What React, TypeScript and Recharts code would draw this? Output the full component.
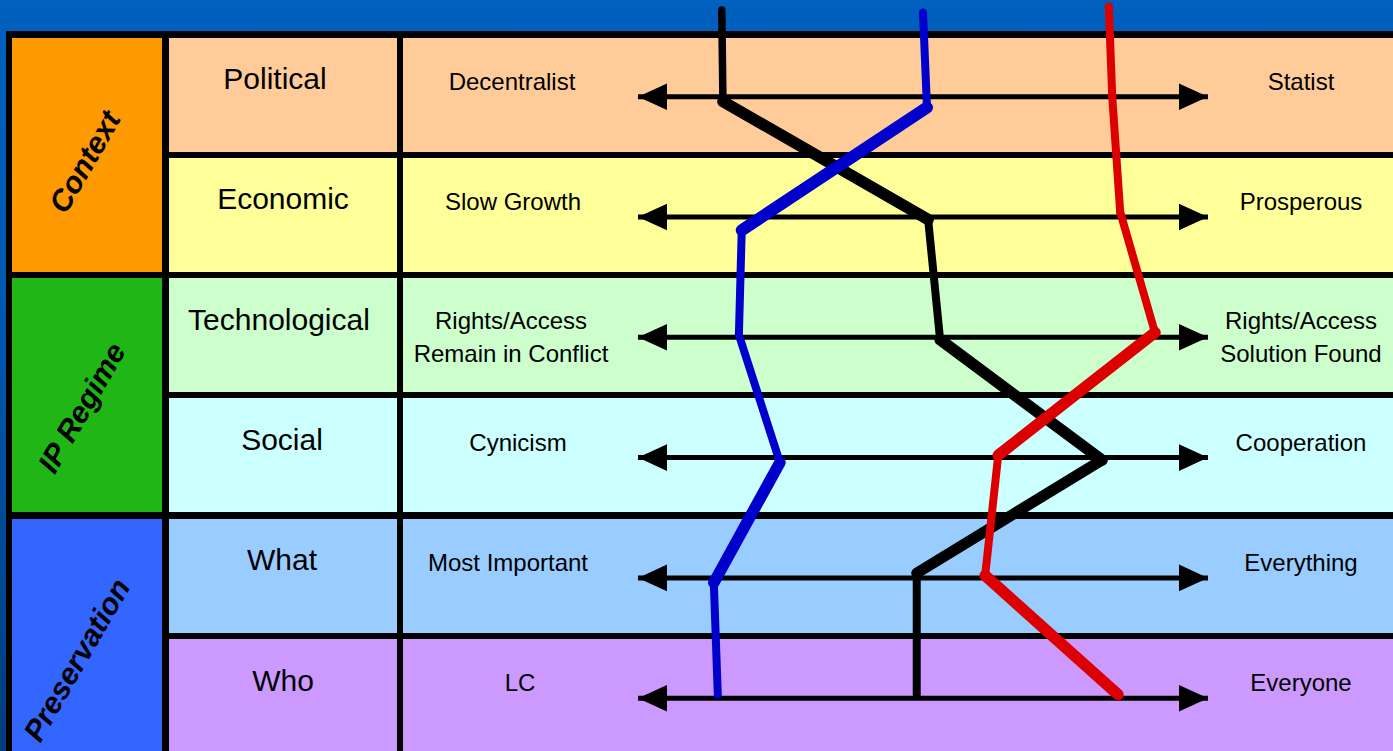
import { ComposedChart, Line, XAxis, YAxis } from 'recharts';

// ---- data ----
const groups = ['Context', 'IP Regime', 'Preservation'];
const groupSpan = [2, 2, 2]; // how many driver rows each group covers

const drivers = ['Political', 'Economic', 'Technological', 'Social', 'What', 'Who'];
const leftPoles = [
  'Decentralist',
  'Slow Growth',
  'Rights/Access\nRemain in Conflict',
  'Cynicism',
  'Most Important',
  'LC',
];
const rightPoles = [
  'Statist',
  'Prosperous',
  'Rights/Access\nSolution Found',
  'Cooperation',
  'Everything',
  'Everyone',
];

// spectrum runs 0 (left pole) .. 10 (right pole)
const poleMin = 0;
const poleMax = 10;

// scenario paths: spectrum position + row index; first point is where the pen starts above the table
const blackPos = [1.47, 1.49, 5.09, 5.3, 8.14, 4.89, 4.89];
const blackRow = [-0.72, 0.04, 1.02, 2.02, 3.02, 3.96, 4.97];

const redPos = [8.26, 8.32, 8.46, 9.07, 6.32, 6.09, 8.42];
const redRow = [-0.75, 0.0, 0.96, 1.96, 2.98, 3.98, 4.97];

const bluePos = [5.0, 5.07, 1.82, 1.77, 2.49, 1.33, 1.4];
const blueRow = [-0.7, 0.09, 1.11, 1.98, 3.04, 4.04, 4.97];

// ---- styles / layout ----
const W = 1393;
const H = 751;
const ROW0_Y = 96.7; // arrow of first row
const ROW_STEP = 120.3;
const GRID_TOP = 37.5;
const SEP = 6.3;
const POLE_L = 638;
const POLE_R = 1208;

const groupColors = ['#ff9900', '#1fb616', '#3366ff'];
const rowColors = ['#ffcc99', '#ffff99', '#ccffcc', '#ccffff', '#99ccff', '#cc99ff'];
const groupLabelAt = [
  [85, 162],
  [82, 408],
  [77, 660],
];
const driverLabelX = [275, 283, 279, 282, 282, 283];
const leftPoleX = [512, 513, 511, 518, 508, 520];

const blackWidths = [7.5, 11.5, 8, 11.5, 11, 8];
const redWidths = [8, 8, 8, 11.5, 8, 11.5];
const blueWidths = [8, 12, 8, 8, 11.5, 8];

const scenarios = [
  { name: 'black', color: '#000000', pos: blackPos, row: blackRow, widths: blackWidths },
  { name: 'red', color: '#dd0000', pos: redPos, row: redRow, widths: redWidths },
  { name: 'blue', color: '#0000cc', pos: bluePos, row: blueRow, widths: blueWidths },
];

const pxPerUnit = (POLE_R - POLE_L) / (poleMax - poleMin);
const xDomain = [poleMin - POLE_L / pxPerUnit, poleMin + (W - POLE_L) / pxPerUnit];
const yDomain = [-ROW0_Y / ROW_STEP, (H - ROW0_Y) / ROW_STEP];

const FONT = '"Liberation Sans", Arial, sans-serif';
const rowTop = (i: number) => GRID_TOP + ROW_STEP * i;

const ArrowHead = (props: any) => {
  const { cx, cy, index } = props;
  const dir = index === 0 ? -1 : 1;
  const len = 29;
  const half = 13.3;
  return (
    <polygon
      key={`head-${index}`}
      points={`${cx},${cy} ${cx - dir * len},${cy - half} ${cx - dir * len},${cy + half}`}
      fill="#000"
    />
  );
};

export default function App() {
  let groupStart = 0;

  return (
    <div
      style={{
        position: 'absolute',
        left: 0,
        top: 0,
        width: W,
        height: H,
        overflow: 'hidden',
        background: 'linear-gradient(180deg, #0060bf 0%, #0057ad 45%, #003c7e 100%)',
        fontFamily: FONT,
      }}
    >
      {/* table frame */}
      <div style={{ position: 'absolute', left: 6, top: 31, width: W, height: H, background: '#000' }} />

      {/* group cells */}
      {groups.map((g, k) => {
        const first = groupStart;
        groupStart += groupSpan[k];
        const top = rowTop(first);
        const bottom = rowTop(first + groupSpan[k]) - SEP;
        return (
          <div
            key={g}
            style={{
              position: 'absolute',
              left: 12,
              top,
              width: 150,
              height: bottom - top,
              background: groupColors[k],
            }}
          />
        );
      })}
      {groups.map((g, k) => (
        <div
          key={`lbl-${g}`}
          style={{
            position: 'absolute',
            left: groupLabelAt[k][0],
            top: groupLabelAt[k][1],
            transform: 'translate(-50%, -50%) rotate(-60deg)',
            whiteSpace: 'nowrap',
            fontSize: 30,
            lineHeight: '30px',
            fontWeight: 'bold',
            fontStyle: 'italic',
            color: '#000',
          }}
        >
          {g}
        </div>
      ))}

      {/* driver rows */}
      {drivers.map((d, i) => (
        <div key={d}>
          <div
            style={{
              position: 'absolute',
              left: 169,
              top: rowTop(i),
              width: 228,
              height: ROW_STEP - SEP,
              background: rowColors[i],
            }}
          />
          <div
            style={{
              position: 'absolute',
              left: 403,
              top: rowTop(i),
              width: W,
              height: ROW_STEP - SEP,
              background: rowColors[i],
            }}
          />
          <div
            style={{
              position: 'absolute',
              left: driverLabelX[i] - 150,
              width: 300,
              top: rowTop(i) + 24.6,
              textAlign: 'center',
              fontSize: 30,
              lineHeight: '34px',
              color: '#000',
            }}
          >
            {d}
          </div>
          <div
            style={{
              position: 'absolute',
              left: leftPoleX[i] - 150,
              width: 300,
              top: rowTop(i) + (leftPoles[i].includes('\n') ? 25.7 : 27.2),
              textAlign: 'center',
              fontSize: 24,
              lineHeight: '33px',
              whiteSpace: 'pre-line',
              color: '#000',
            }}
          >
            {leftPoles[i]}
          </div>
          <div
            style={{
              position: 'absolute',
              left: 1301 - 150,
              width: 300,
              top: rowTop(i) + (rightPoles[i].includes('\n') ? 25.7 : 27.2),
              textAlign: 'center',
              fontSize: 24,
              lineHeight: '33px',
              whiteSpace: 'pre-line',
              color: '#000',
            }}
          >
            {rightPoles[i]}
          </div>
        </div>
      ))}

      {/* spectrum arrows + scenario paths */}
      <div style={{ position: 'absolute', left: 0, top: 0 }}>
        <ComposedChart width={W} height={H} margin={{ top: 0, right: 0, bottom: 0, left: 0 }}>
          <XAxis type="number" dataKey="x" domain={xDomain} allowDataOverflow hide />
          <YAxis type="number" domain={yDomain} allowDataOverflow reversed hide />
          {drivers.map((d, i) => (
            <Line
              key={`arrow-${d}`}
              data={[
                { x: poleMin, y: i },
                { x: poleMax, y: i },
              ]}
              dataKey="y"
              stroke="#000"
              strokeWidth={5}
              dot={ArrowHead}
              activeDot={false}
              isAnimationActive={false}
            />
          ))}
          {scenarios.flatMap((s) =>
            s.pos.slice(1).map((p, i) => (
              <Line
                key={`${s.name}-${i}`}
                data={[
                  { x: s.pos[i], y: s.row[i] },
                  { x: p, y: s.row[i + 1] },
                ]}
                dataKey="y"
                stroke={s.color}
                strokeWidth={s.widths[i]}
                strokeLinecap="round"
                strokeLinejoin="round"
                dot={false}
                activeDot={false}
                isAnimationActive={false}
              />
            ))
          )}
        </ComposedChart>
      </div>
    </div>
  );
}
